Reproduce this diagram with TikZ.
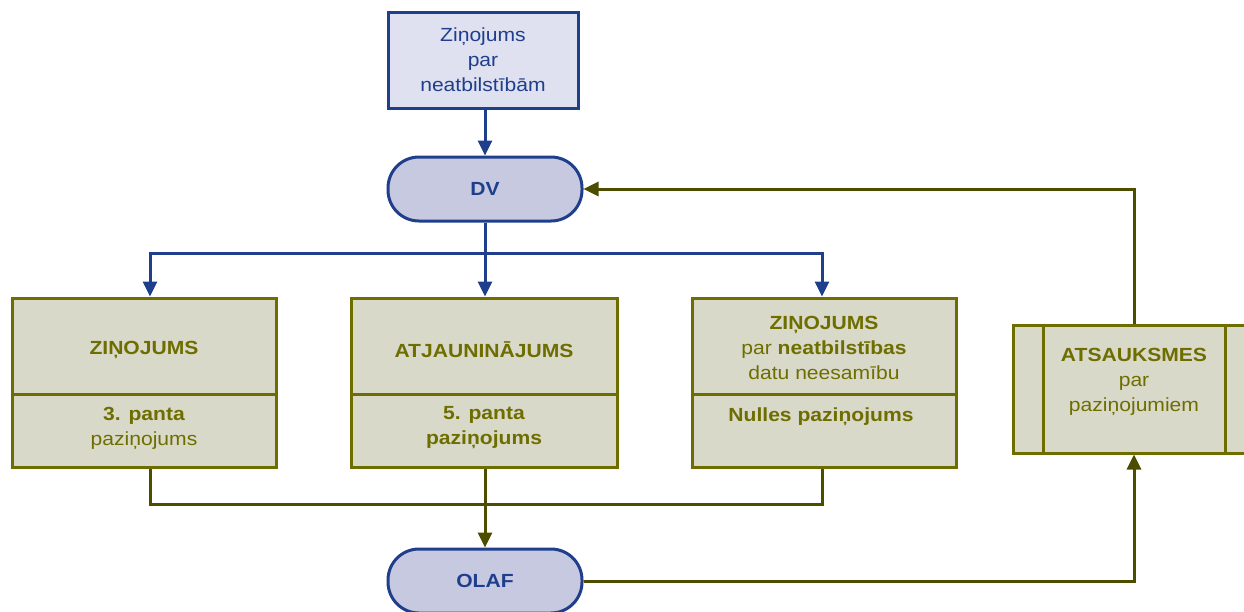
\documentclass[tikz,border=0pt]{standalone}
\usepackage{fontspec}
\setmainfont{Liberation Sans}[FakeStretch=1.11]
\usetikzlibrary{arrows.meta}
\definecolor{dblue}{HTML}{1F3F8C}
\definecolor{lav}{HTML}{DFE1F0}
\definecolor{pillfill}{HTML}{C7C9E1}
\definecolor{olborder}{HTML}{6E6E00}
\definecolor{olline}{HTML}{4D4D00}
\definecolor{olfill}{HTML}{D9D9C9}
\tikzset{
  topbox/.style={draw=dblue, fill=lav, line width=3pt, minimum width=190pt, minimum height=96pt, inner sep=0pt, text=dblue, align=center, font=\fontsize{19}{25}\selectfont},
  pill/.style={draw=dblue, fill=pillfill, line width=3pt, rounded corners=31pt, minimum width=194pt, minimum height=64pt, inner sep=0pt, text=dblue, font=\fontsize{19}{25}\selectfont\bfseries},
  obox/.style={draw=olborder, fill=olfill, line width=3pt, inner sep=0pt},
  otext/.style={text=olborder, align=center, inner sep=0pt, font=\fontsize{19}{25}\selectfont},
  divider/.style={draw=olborder, line width=3pt},
  bconn/.style={draw=dblue, line width=3pt},
  barrow/.style={bconn, -{Triangle[length=15pt,width=14pt]}},
  oconn/.style={draw=olline, line width=3pt},
  oarrow/.style={oconn, -{Triangle[length=15pt,width=14pt]}},
}
\begin{document}
\begin{tikzpicture}[x=1pt,y=-1pt]
\useasboundingbox (0,0) rectangle (1244,611);
% nodes
\node[topbox] (src) at (483,60) {Ziņojums\\par\\neatbilstībām};
\node[pill] (dv) at (485,189) {DV};
\node[pill] (olaf) at (485,581) {OLAF};
\node[obox, minimum width=264pt, minimum height=169pt] (b1) at (144,382.5) {};
\node[obox, minimum width=266pt, minimum height=169pt] (b2) at (484,382.5) {};
\node[obox, minimum width=264pt, minimum height=169pt] (b3) at (824,382.5) {};
\node[obox, minimum width=242pt, minimum height=128pt] (ats) at (1134,389) {};
% dividers
\draw[divider] (b1.west |- 0,394) -- (b1.east |- 0,394);
\draw[divider] (b2.west |- 0,394) -- (b2.east |- 0,394);
\draw[divider] (b3.west |- 0,394) -- (b3.east |- 0,394);
\draw[divider] (1043,0 |- ats.north) -- (1043,0 |- ats.south);
\draw[divider] (1225,0 |- ats.north) -- (1225,0 |- ats.south);
% texts
\node[otext] (t1a) at (144,350) {\textbf{ZIŅOJUMS}};
\node[otext] (t1b) at (144,428) {\textbf{3. panta}\\paziņojums};
\node[otext] (t2a) at (484,350) {\textbf{ATJAUNINĀJUMS}};
\node[otext] (t2b) at (484,428) {\textbf{5. panta}\\\textbf{paziņojums}};
\node[otext] (t3a) at (824,348) {\textbf{ZIŅOJUMS}\\par \textbf{neatbilstības}\\datu neesamību};
\node[otext] (t3b) at (821,417) {\textbf{Nulles paziņojums}};
\node[otext] (t4) at (1134,382) {\textbf{ATSAUKSMES}\\par\\paziņojumiem};
% connectors
\coordinate (j1) at (485,253);
\coordinate (j2) at (485,504);
\draw[barrow] (src.south -| dv.north) -- (dv.north);
\draw[bconn] (dv.south) -- (j1);
\draw[barrow] (j1) -| ([xshift=6pt]b1.north);
\draw[barrow] (j1) -| ([xshift=-2pt]b3.north);
\draw[barrow] (j1) -- (b2.north -| j1);
\draw[oconn] ([xshift=6pt]b1.south) |- (j2);
\draw[oconn] ([xshift=-2pt]b3.south) |- (j2);
\draw[oarrow] (b2.south -| j2) -- (olaf.north);
\draw[oarrow] (olaf.east) -| (ats.south);
\draw[oarrow] (ats.north) |- (dv.east);
\end{tikzpicture}
\end{document}
